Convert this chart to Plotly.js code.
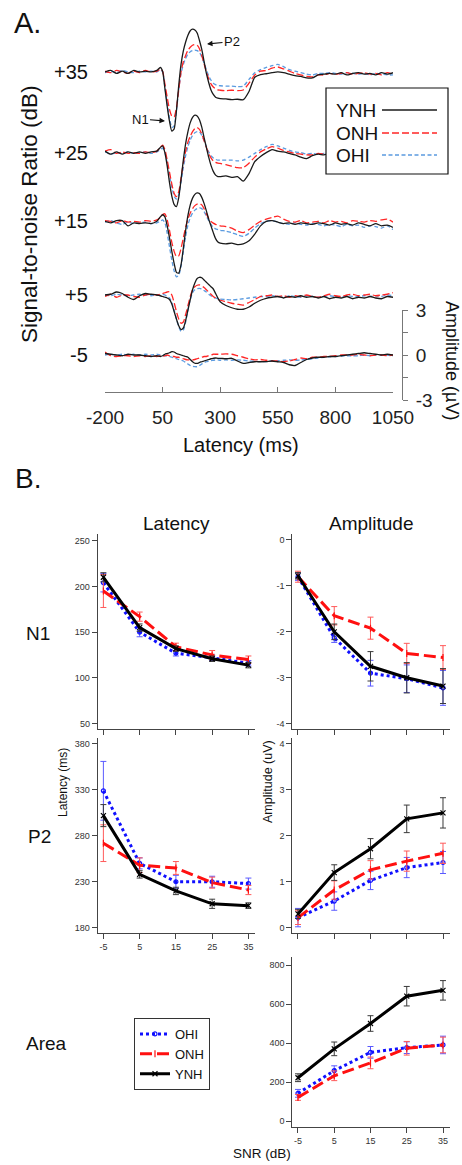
<!DOCTYPE html>
<html><head><meta charset="utf-8">
<script src="https://cdn.plot.ly/plotly-3.0.1.min.js"></script>
<style>html,body{margin:0;padding:0;background:#fff}#chart{width:462px;height:1165px}</style>
</head><body><div id="chart"></div>
<script>
// ---------------- Panel A data (ERP waveforms, µV vs latency ms) ----------------
const timeMs = [-200,-175,-150,-125,-100,-75,-50,-25,0,25,
  40,50,60,70,80,90,100,110,120,130,140,150,160,170,180,190,200,210,220,230,240,250,260,270,280,290,
  300,325,350,375,400,425,450,475,500,525,550,575,600,625,650,675,700,725,750,775,800,825,850,875,900,925,950,975,1000,1025,1050];
const snrRows = ['+35','+25','+15','+5','-5'];

const ynh35 = [0,0.1,-0.1,0.05,-0.1,0.1,0,0.05,0,0.1,
  0.3,0.05,-1.1,-2.3,-3.3,-3.95,-3.8,-2.6,-0.9,0.5,1.4,2.0,2.45,2.75,2.85,2.8,2.6,2.1,1.5,0.7,-0.1,-0.7,-1.2,-1.5,-1.68,-1.75,
  -1.78,-1.8,-1.85,-1.82,-1.85,-1.3,-0.35,-0.18,-0.12,-0.05,0,-0.05,-0.15,-0.25,-0.3,-0.4,-0.4,-0.2,-0.15,-0.1,-0.15,-0.05,-0.2,-0.1,-0.05,-0.15,-0.1,-0.2,-0.05,-0.15,-0.05];
const onh35 = [0.05,-0.05,0.1,0,-0.1,0.05,-0.05,0.1,0,0.05,
  0.2,0.05,-0.8,-1.7,-2.5,-2.95,-3.0,-2.4,-1.2,0.0,0.7,1.1,1.45,1.65,1.78,1.82,1.78,1.55,1.1,0.55,0.0,-0.45,-0.8,-1.0,-1.12,-1.2,
  -1.22,-1.25,-1.22,-1.25,-1.2,-0.75,-0.2,0.05,0.1,0.25,0.33,0.2,0.05,-0.1,-0.2,-0.3,-0.33,-0.2,-0.2,-0.1,-0.15,-0.1,-0.05,-0.15,-0.1,-0.05,-0.15,-0.1,-0.2,-0.05,-0.15];
const ohi35 = [-0.05,0.05,-0.05,0.1,0,-0.05,0.05,0,0.05,0,
  0.15,0.0,-1.0,-2.1,-3.1,-3.7,-3.6,-2.6,-1.2,-0.1,0.5,0.9,1.2,1.35,1.42,1.45,1.42,1.3,1.0,0.6,0.15,-0.25,-0.55,-0.75,-0.85,-0.9,
  -0.92,-0.95,-0.95,-0.98,-0.95,-0.5,-0.05,0.15,0.3,0.42,0.5,0.35,0.15,0.05,-0.05,-0.15,-0.2,-0.1,-0.1,-0.05,-0.1,-0.15,-0.05,-0.1,-0.15,-0.1,-0.2,-0.1,-0.15,-0.2,-0.2];

const ynh25 = [0.1,-0.1,0.05,-0.1,0.05,-0.05,0.05,-0.05,0.05,0.1,
  0.35,0.45,0.0,-0.9,-2.0,-2.9,-3.45,-3.6,-3.0,-1.8,-0.5,0.6,1.4,2.0,2.35,2.5,2.45,2.2,1.7,1.0,0.35,-0.3,-0.85,-1.25,-1.5,-1.6,
  -1.6,-1.55,-1.65,-1.6,-1.9,-1.4,-0.6,-0.25,0.0,0.2,0.1,0.05,-0.05,-0.15,-0.3,-0.4,-0.2,-0.1,-0.15,-0.05,-0.15,-0.2,-0.1,-0.05,-0.15,-0.1,-0.2,-0.1,-0.05,-0.15,-0.1];
const onh25 = [0.1,0.2,-0.05,0.05,-0.05,0,-0.05,0.05,0,0.1,
  0.35,0.5,0.2,-0.5,-1.3,-2.1,-2.7,-2.93,-2.6,-1.7,-0.7,0.1,0.7,1.1,1.4,1.6,1.67,1.55,1.25,0.8,0.35,-0.05,-0.35,-0.55,-0.65,-0.7,
  -0.72,-0.8,-0.9,-1.0,-1.0,-0.7,-0.3,0.05,0.25,0.4,0.3,0.15,0.05,-0.05,-0.1,-0.15,-0.15,-0.05,-0.1,-0.15,-0.05,-0.1,-0.15,-0.05,-0.1,-0.15,-0.05,-0.1,-0.15,-0.1,-0.05];
const ohi25 = [0.05,-0.1,0,-0.05,0.05,-0.05,0,0.05,-0.05,0.05,
  0.2,0.3,0.0,-0.7,-1.5,-2.3,-2.9,-3.1,-2.8,-2.0,-1.0,-0.2,0.4,0.85,1.15,1.32,1.4,1.38,1.15,0.8,0.4,0.05,-0.2,-0.35,-0.45,-0.5,
  -0.5,-0.5,-0.5,-0.55,-0.5,-0.3,-0.05,0.2,0.4,0.55,0.45,0.3,0.15,0.05,0,-0.1,-0.05,-0.1,-0.05,-0.1,-0.15,-0.05,-0.1,-0.15,-0.1,-0.05,-0.15,-0.1,-0.1,-0.05,-0.1];

const ynh15 = [0,-0.1,0.05,0.05,-0.3,-0.1,-0.15,-0.1,-0.15,0,
  0.3,0.44,0.3,-0.3,-1.1,-2.0,-2.8,-3.4,-3.45,-2.9,-1.8,-0.6,0.4,1.1,1.55,1.8,1.9,1.85,1.6,1.2,0.7,0.15,-0.3,-0.75,-1.15,-1.38,
  -1.45,-1.5,-1.45,-1.55,-1.5,-1.3,-0.85,-0.3,0,0.05,-0.05,-0.15,-0.1,-0.2,-0.1,-0.15,-0.2,-0.1,-0.15,-0.25,-0.1,-0.2,-0.15,-0.25,-0.1,-0.2,-0.3,-0.15,-0.3,-0.25,-0.4];
const onh15 = [0.05,0,-0.1,0.05,-0.05,0,-0.05,0.05,0,0.1,
  0.25,0.45,0.5,0.1,-0.6,-1.4,-2.0,-2.35,-2.3,-1.8,-1.1,-0.4,0.15,0.55,0.85,1.05,1.15,1.18,1.1,0.85,0.5,0.2,0,-0.12,-0.2,-0.25,
  -0.3,-0.35,-0.45,-0.65,-0.75,-0.55,-0.25,0,0.15,0.25,0.35,0.15,0,-0.05,0.05,-0.1,-0.05,0,-0.1,0.05,-0.05,0,-0.1,0.05,0,-0.05,0.05,0,0.1,0.15,-0.05];
const ohi15 = [-0.05,0.05,-0.1,-0.2,-0.05,-0.15,-0.1,-0.05,-0.15,-0.1,
  0,0.1,-0.1,-0.8,-1.7,-2.6,-3.3,-3.7,-3.6,-3.0,-2.0,-1.0,-0.25,0.25,0.55,0.75,0.85,0.9,0.85,0.65,0.35,0.05,-0.2,-0.4,-0.5,-0.55,
  -0.6,-0.65,-0.75,-0.9,-1.0,-0.8,-0.45,-0.15,0,0.05,-0.05,-0.15,-0.2,-0.1,-0.2,-0.25,-0.15,-0.2,-0.3,-0.2,-0.25,-0.35,-0.2,-0.3,-0.25,-0.4,-0.3,-0.35,-0.45,-0.3,-0.55];

const ynh5 = [0,0.05,0.2,0.1,-0.15,-0.3,-0.05,0.1,0.05,0,
  -0.05,-0.1,-0.15,-0.2,-0.3,-0.6,-1.1,-1.6,-2.05,-2.3,-2.2,-1.7,-1.0,-0.3,0.35,0.8,1.1,1.18,1.15,1.0,0.85,0.7,0.55,0.4,0.1,-0.2,
  -0.45,-0.7,-0.85,-0.95,-0.95,-0.8,-0.55,-0.35,-0.22,-0.15,-0.1,-0.2,-0.1,-0.15,-0.05,-0.15,-0.1,-0.2,-0.1,-0.25,-0.15,-0.2,-0.1,-0.25,-0.15,-0.2,-0.1,-0.2,-0.25,-0.1,-0.15];
const onh5 = [-0.1,0.05,-0.15,0,0,-0.1,-0.15,0,0.05,0,
  0.05,0.1,0.15,0.2,0.22,0,-0.5,-1.1,-1.6,-1.88,-1.8,-1.3,-0.7,-0.1,0.35,0.55,0.65,0.67,0.6,0.5,0.35,0.2,0.05,-0.1,-0.2,-0.3,
  -0.35,-0.45,-0.55,-0.62,-0.67,-0.5,-0.3,-0.1,-0.05,0,-0.1,-0.05,-0.15,-0.05,-0.1,0,-0.1,-0.15,-0.05,0.05,-0.05,-0.1,0,0.05,-0.05,0,0.05,-0.05,0,0.05,0.15];
const ohi5 = [0,-0.05,0.05,0,-0.05,0,0.05,0,-0.05,0,
  0,0.05,0,-0.1,-0.2,-0.5,-1.0,-1.6,-2.1,-2.42,-2.35,-1.8,-1.0,-0.3,0.15,0.35,0.42,0.44,0.4,0.3,0.2,0.05,-0.05,-0.15,-0.2,-0.25,
  -0.28,-0.3,-0.33,-0.3,-0.25,-0.2,-0.15,-0.1,-0.1,-0.05,-0.1,-0.15,-0.05,-0.1,-0.15,-0.05,-0.1,-0.15,-0.1,-0.05,-0.1,-0.15,-0.05,-0.1,-0.1,-0.05,-0.1,-0.05,-0.1,0,-0.05];

const ynhM5 = [0.1,0.05,0,-0.05,0.05,0,0,-0.05,-0.1,-0.05,
  -0.1,-0.05,0.05,0.1,0.15,0.22,0.2,0.1,0.05,0,-0.05,-0.1,-0.15,-0.3,-0.45,-0.55,-0.56,-0.5,-0.45,-0.4,-0.35,-0.3,-0.25,-0.22,-0.2,-0.22,
  -0.22,-0.25,-0.22,-0.4,-0.56,-0.5,-0.45,-0.45,-0.44,-0.4,-0.45,-0.5,-0.65,-0.7,-0.5,-0.3,-0.2,-0.15,-0.15,-0.1,-0.1,-0.05,0,0.05,0.1,0.15,0.1,0.05,0,0.05,0];
const onhM5 = [0.2,-0.05,-0.1,-0.05,-0.05,-0.1,-0.05,-0.1,-0.05,-0.1,
  -0.05,-0.1,-0.05,0,-0.05,-0.1,-0.1,-0.15,-0.15,-0.2,-0.25,-0.3,-0.33,-0.33,-0.33,-0.3,-0.25,-0.2,-0.15,-0.1,-0.1,-0.05,0,0.05,0.05,0.05,
  0.05,0.07,0.05,-0.05,-0.15,-0.25,-0.33,-0.3,-0.35,-0.4,-0.4,-0.44,-0.4,-0.3,-0.2,-0.25,-0.15,-0.15,-0.1,-0.1,-0.05,0,0,0,0.05,0,-0.05,0,0,-0.05,0];
const ohiM5 = [0,0.05,0,0.05,0,0.05,0,0.05,0,0.05,
  0,0,-0.05,-0.05,-0.1,-0.15,-0.2,-0.25,-0.3,-0.35,-0.4,-0.5,-0.6,-0.7,-0.75,-0.78,-0.78,-0.7,-0.6,-0.5,-0.45,-0.4,-0.38,-0.35,-0.33,-0.33,
  -0.35,-0.33,-0.35,-0.33,-0.35,-0.4,-0.42,-0.44,-0.44,-0.4,-0.38,-0.35,-0.33,-0.35,-0.33,-0.3,-0.25,-0.2,-0.15,-0.12,-0.1,-0.08,-0.05,-0.05,-0.05,0,-0.05,0,0,0,-0.05];

// ---------------- Panel B data (group means ± error) ----------------
const snr = [-5, 5, 15, 25, 35];
const snrTickText = ['-5', '5', '15', '25', '35'];

const n1LatYNH = [210, 155, 132, 121, 114], n1LatYNHErr = [5, 4, 3, 3, 3];
const n1LatONH = [195, 167, 134, 125, 120], n1LatONHErr = [18, 5, 4, 5, 4];
const n1LatOHI = [204, 150, 127, 122, 116], n1LatOHIErr = [10, 5, 3, 3, 3];

const n1AmpYNH = [-0.78, -2.0, -2.75, -3.0, -3.18], n1AmpYNHErr = [0.07, 0.17, 0.32, 0.33, 0.38];
const n1AmpONH = [-0.8, -1.65, -1.92, -2.47, -2.56], n1AmpONHErr = [0.12, 0.2, 0.24, 0.22, 0.26];
const n1AmpOHI = [-0.8, -2.13, -2.9, -3.02, -3.22], n1AmpOHIErr = [0.08, 0.1, 0.28, 0.3, 0.38];

const p2LatYNH = [302, 238, 220, 206, 204], p2LatYNHErr = [12, 4, 4, 5, 3];
const p2LatONH = [272, 248, 245, 229, 221], p2LatONHErr = [20, 8, 7, 6, 5];
const p2LatOHI = [329, 250, 230, 230, 228], p2LatOHIErr = [32, 6, 7, 6, 6];

const p2AmpYNH = [0.3, 1.2, 1.72, 2.37, 2.5], p2AmpYNHErr = [0.1, 0.17, 0.22, 0.3, 0.33];
const p2AmpONH = [0.22, 0.82, 1.26, 1.45, 1.62], p2AmpONHErr = [0.15, 0.2, 0.2, 0.22, 0.22];
const p2AmpOHI = [0.22, 0.58, 1.03, 1.31, 1.42], p2AmpOHIErr = [0.2, 0.2, 0.2, 0.22, 0.24];

const areaYNH = [222, 370, 500, 640, 670], areaYNHErr = [20, 35, 40, 50, 50];
const areaONH = [121, 232, 298, 373, 390], areaONHErr = [15, 25, 30, 35, 40];
const areaOHI = [142, 258, 352, 376, 390], areaOHIErr = [20, 25, 30, 30, 45];

// ---------------- layout helpers ----------------
const W = 462, H = 1165;
const px = v => v / W;
const py = v => 1 - v / H;
const FONT = 'Liberation Sans, Arial, Helvetica, sans-serif';

// vertical stacking offsets of the SNR rows in panel A (µV units, layout only)
const rowOffset = {'+35': 18.87, '+25': 13.49, '+15': 8.91, '+5': 4.0, '-5': 0};
const waves = {
  '+35': {YNH: ynh35, ONH: onh35, OHI: ohi35},
  '+25': {YNH: ynh25, ONH: onh25, OHI: ohi25},
  '+15': {YNH: ynh15, ONH: onh15, OHI: ohi15},
  '+5':  {YNH: ynh5,  ONH: onh5,  OHI: ohi5},
  '-5':  {YNH: ynhM5, ONH: onhM5, OHI: ohiM5}
};
const styleA = {
  OHI: {color: '#5b9be0', dash: '4px,2.5px'},
  ONH: {color: '#ff2626', dash: '7px,3px'},
  YNH: {color: '#1a1a1a', dash: 'solid'}
};

const traces = [];
snrRows.forEach(r => {
  ['OHI', 'ONH', 'YNH'].forEach(g => {
    traces.push({
      type: 'scatter', mode: 'lines', x: timeMs,
      y: waves[r][g].map(v => v + rowOffset[r]),
      xaxis: 'x', yaxis: 'y', showlegend: false, hoverinfo: 'skip',
      line: {color: styleA[g].color, width: 1.3, dash: styleA[g].dash, shape: 'spline', smoothing: 0.6}
    });
  });
});
// amplitude scale-bar axis (empty trace so the subplot exists)
traces.push({type: 'scatter', mode: 'lines', x: [], y: [], xaxis: 'x8', yaxis: 'y7', showlegend: false, hoverinfo: 'skip'});

// ---------------- Panel B traces ----------------
const styleB = {
  OHI: {color: '#1010ff', dash: 'dot', ecolor: '#5a5aff', symbol: 'circle-open', size: 4},
  ONH: {color: '#ff1010', dash: '12px,5px', ecolor: '#ff5a5a', symbol: 'line-ns-open', size: 5},
  YNH: {color: '#000000', dash: 'solid', ecolor: '#3a3a3a', symbol: 'x-thin-open', size: 5}
};
function bTrace(xa, ya, vals, errs, g, legend) {
  const s = styleB[g];
  return {
    type: 'scatter', mode: 'lines+markers', x: snr, y: vals, xaxis: xa, yaxis: ya,
    name: g, showlegend: legend, legendgroup: g, hoverinfo: 'skip',
    line: {color: s.color, width: 3, dash: s.dash},
    marker: {symbol: s.symbol, size: s.size, color: s.color, line: {width: 1.2, color: s.color}},
    error_y: {type: 'data', array: errs, visible: true, color: s.ecolor, thickness: 1, width: 3}
  };
}
const panelsB = [
  ['x2', 'y2', {OHI: [n1LatOHI, n1LatOHIErr], ONH: [n1LatONH, n1LatONHErr], YNH: [n1LatYNH, n1LatYNHErr]}],
  ['x3', 'y3', {OHI: [n1AmpOHI, n1AmpOHIErr], ONH: [n1AmpONH, n1AmpONHErr], YNH: [n1AmpYNH, n1AmpYNHErr]}],
  ['x4', 'y4', {OHI: [p2LatOHI, p2LatOHIErr], ONH: [p2LatONH, p2LatONHErr], YNH: [p2LatYNH, p2LatYNHErr]}],
  ['x5', 'y5', {OHI: [p2AmpOHI, p2AmpOHIErr], ONH: [p2AmpONH, p2AmpONHErr], YNH: [p2AmpYNH, p2AmpYNHErr]}],
  ['x6', 'y6', {OHI: [areaOHI, areaOHIErr], ONH: [areaONH, areaONHErr], YNH: [areaYNH, areaYNHErr]}]
];
panelsB.forEach(([xa, ya, d], i) => {
  ['OHI', 'ONH', 'YNH'].forEach(g => traces.push(bTrace(xa, ya, d[g][0], d[g][1], g, i === 4)));
});

// ---------------- axes ----------------
const latDom = [px(97.7), px(255.4)], ampDom = [px(292.3), px(450)];
const rowN1 = [py(729), py(534)], rowP2 = [py(933), py(738)], rowArea = [py(1126.7), py(957)];
function bx(dom, anchor, labels) {
  return {domain: dom, anchor: anchor, range: [-6.57, 36.93], tickvals: snr, ticktext: snrTickText,
    showticklabels: labels, ticks: 'outside', ticklen: 5, tickcolor: '#444', tickwidth: 1,
    showline: true, linecolor: '#444', linewidth: 1, showgrid: false, zeroline: false,
    tickfont: {size: 9, color: '#333', family: FONT}, fixedrange: true};
}
function by(dom, anchor, range, vals) {
  return {domain: dom, anchor: anchor, range: range, tickvals: vals, ticktext: vals.map(String),
    ticks: 'outside', ticklen: 5, tickcolor: '#444', tickwidth: 1,
    showline: true, linecolor: '#444', linewidth: 1, showgrid: false, zeroline: false,
    tickfont: {size: 9, color: '#333', family: FONT}, fixedrange: true};
}

// panel A: bottom of the y domain sits on the time axis (pixel 392); -5 dB baseline at pixel 355, 15 px per µV
const layout = {
  width: W, height: H, margin: {l: 0, r: 0, t: 0, b: 0}, paper_bgcolor: '#fff', plot_bgcolor: 'rgba(0,0,0,0)',
  font: {family: FONT, color: '#111'},
  showlegend: true,
  legend: {x: px(134), y: py(1018), xanchor: 'left', yanchor: 'top', bgcolor: '#fff', bordercolor: '#333', borderwidth: 1,
    font: {size: 13, family: FONT, color: '#111'}, tracegroupgap: 0, itemwidth: 30, traceorder: 'normal'},
  xaxis: {domain: [px(105), px(393)], range: [-200, 1050], anchor: 'y',
    tickvals: [-200, 50, 300, 550, 800, 1050], ticktext: ['-200', '50', '300', '550', '800', '1050'],
    ticks: 'inside', ticklen: 5, tickcolor: '#777', showline: true, linecolor: '#777', linewidth: 1,
    showgrid: false, zeroline: false, tickfont: {size: 19, color: '#222', family: FONT}, ticklabelstandoff: 8, fixedrange: true},
  yaxis: {domain: [py(392), py(20)], range: [-37 / 15, 335 / 15], anchor: 'x', visible: false, fixedrange: true},
  xaxis8: {domain: [px(105), px(402)], range: [0, 1], anchor: 'y7', visible: false, fixedrange: true},
  yaxis7: {domain: [py(400), py(310)], range: [-3, 3], anchor: 'x8', side: 'right',
    tickvals: [-3, -1.5, 0, 1.5, 3], ticktext: ['-3', '', '0', '', '3'], ticks: 'outside', ticklen: 5, tickcolor: '#777',
    showline: true, linecolor: '#777', linewidth: 1, showgrid: false, zeroline: false,
    tickfont: {size: 19, color: '#222', family: FONT}, ticklabelstandoff: 4, fixedrange: true},
  xaxis2: bx(latDom, 'y2', false),
  yaxis2: by(rowN1, 'x2', [44.2, 257.3], [50, 100, 150, 200, 250]),
  xaxis3: bx(ampDom, 'y3', false),
  yaxis3: Object.assign(by(rowN1, 'x3', [-4.115, 0.13], [-4, -3, -2, -1, 0]), {ticktext: ['-4', '-3', '-2', '-1', '0']}),
  xaxis4: bx(latDom, 'y4', true),
  yaxis4: by(rowP2, 'x4', [174.2, 386.5], [180, 230, 280, 330, 380]),
  xaxis5: bx(ampDom, 'y5', false),
  yaxis5: by(rowP2, 'x5', [-0.115, 4.13], [0, 1, 2, 3, 4]),
  xaxis6: bx(ampDom, 'y6', true),
  yaxis6: by(rowArea, 'x6', [-29.2, 841], [0, 200, 400, 600, 800])
};

// ---------------- text ----------------
const ann = [];
function txt(t, x, y, size, opts) {
  ann.push(Object.assign({text: t, x: x, y: y, xref: 'paper', yref: 'paper', showarrow: false,
    xanchor: 'center', yanchor: 'middle', font: {size: size, family: FONT, color: '#111'}}, opts || {}));
}
txt('A.', px(12), py(23), 29, {xanchor: 'left'});
txt('B.', px(13), py(478), 28, {xanchor: 'left'});
snrRows.forEach(r => ann.push({text: r, x: px(90), xref: 'paper', y: rowOffset[r], yref: 'y', showarrow: false,
  xanchor: 'right', yanchor: 'middle', font: {size: 20, family: FONT, color: '#111'}}));
txt('Signal-to-noise Ratio (dB)', px(29), py(214), 22.5, {textangle: -90});
txt('Amplitude (µV)', px(452), py(360), 18, {textangle: 90});
txt('Latency (ms)', px(241), py(445), 20);
ann.push({text: 'N1', x: px(165), y: py(121), xref: 'paper', yref: 'paper', showarrow: true, ax: -25, ay: -2,
  arrowhead: 2, arrowsize: 1, arrowwidth: 1.1, arrowcolor: '#111', font: {size: 13, family: FONT, color: '#111'}});
ann.push({text: 'P2', x: px(207), y: py(44), xref: 'paper', yref: 'paper', showarrow: true, ax: 25, ay: -2.5,
  arrowhead: 2, arrowsize: 1, arrowwidth: 1.1, arrowcolor: '#111', font: {size: 13, family: FONT, color: '#111'}});
// legend of panel A (text first, line sample after)
const legA = [['YNH', 110], ['ONH', 133], ['OHI', 155]];
legA.forEach(([g, y]) => txt(g, px(334), py(y), 19, {xanchor: 'left'}));
txt('Latency', px(176), py(523), 19);
txt('Amplitude', px(371), py(523), 19);
txt('N1', px(38), py(633), 19);
txt('P2', px(39), py(836), 19);
txt('Area', px(46), py(1043), 19);
txt('Latency (ms)', px(63), py(782), 12, {textangle: -90});
txt('Amplitude (uV)', px(268), py(782), 12.5, {textangle: -90});
txt('SNR (dB)', px(262), py(1153), 13.5);
layout.annotations = ann;

const shapes = [{type: 'rect', xref: 'paper', yref: 'paper', x0: px(326), x1: px(448), y0: py(174), y1: py(88),
  line: {color: '#111', width: 1.2}, fillcolor: '#fff', layer: 'above'}];
legA.forEach(([g, y]) => shapes.push({type: 'line', xref: 'paper', yref: 'paper', x0: px(382), x1: px(437), y0: py(y), y1: py(y),
  line: {color: styleA[g].color, width: 1.4, dash: styleA[g].dash}, layer: 'above'}));
layout.shapes = shapes;

Plotly.newPlot('chart', traces, layout, {staticPlot: true, displayModeBar: false});
</script>
</body></html>
